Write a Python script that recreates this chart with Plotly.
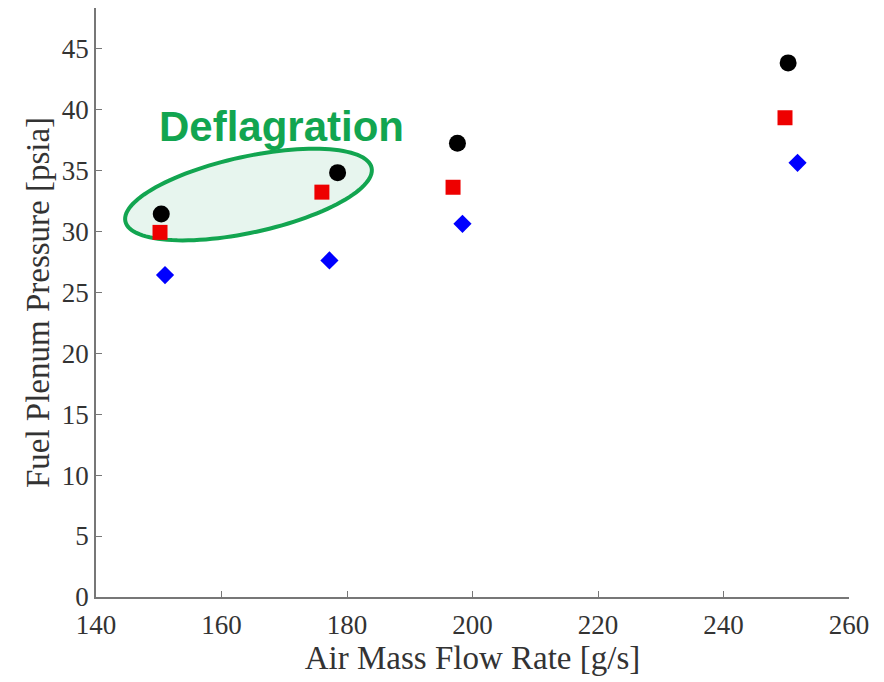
import numpy as np
import plotly.graph_objects as go

# Data
x_black = [150.4, 178.5, 197.6, 250.3]
y_black = [31.4, 34.8, 37.2, 43.8]
x_red = [150.2, 176.0, 196.9, 249.8]
y_red = [29.9, 33.2, 33.6, 39.3]
x_blue = [151.0, 177.2, 198.4, 251.8]
y_blue = [26.4, 27.6, 30.6, 35.6]

x_ticks = [140, 160, 180, 200, 220, 240, 260]
y_ticks = [0, 5, 10, 15, 20, 25, 30, 35, 40, 45]

# page body has an 8px margin; figure is sized so the plot lands where the reference has it
W, H = 876, 674
ml, mr, mt, mb = 88, 35, 0, 85
xr = [140, 260]
yr = [0, 48.3]
sx = (W - ml - mr) / (xr[1] - xr[0])   # px per x unit
sy = (H - mt - mb) / (yr[1] - yr[0])   # px per y unit

fig = go.Figure()
fig.add_trace(go.Scatter(x=x_black, y=y_black, mode="markers",
                         marker=dict(symbol="circle", size=17, color="black"),
                         showlegend=False))
fig.add_trace(go.Scatter(x=x_red, y=y_red, mode="markers",
                         marker=dict(symbol="square", size=15, color="#ee0000"),
                         showlegend=False))
fig.add_trace(go.Scatter(x=x_blue, y=y_blue, mode="markers",
                         marker=dict(symbol="diamond", size=14, color="#0000ff"),
                         showlegend=False))

# Tilted ellipse annotation (defined in pixel geometry, converted to data)
cx, cy = 164.3, 33.0
a_px, b_px, ang = 126, 38, np.deg2rad(12.3)
t = np.linspace(0, 2 * np.pi, 121)
u = a_px * np.cos(t)
v = b_px * np.sin(t)
dx = u * np.cos(ang) + v * np.sin(ang)
dy = u * np.sin(ang) - v * np.cos(ang)
ex = cx + dx / sx
ey = cy + dy / sy
path = "M " + " L ".join(f"{xx:.3f},{yy:.3f}" for xx, yy in zip(ex, ey)) + " Z"
fig.add_shape(type="path", path=path, xref="x", yref="y",
              fillcolor="rgba(215,238,226,0.6)",
              line=dict(color="#12a550", width=4), layer="below")

fig.add_annotation(x=169.5, y=38.6, xref="x", yref="y", text="<b>Deflagration</b>",
                   showarrow=False,
                   font=dict(family="Liberation Sans, Arial", size=42, color="#12a550"))

axis_common = dict(showline=True, linecolor="#777777", linewidth=1.5,
                   ticks="inside", ticklen=6, tickcolor="#777777", tickwidth=1.2,
                   showgrid=False, zeroline=False, mirror=False, automargin=False,
                   tickfont=dict(family="Liberation Serif, Times New Roman", size=27, color="#333333"))

fig.update_xaxes(range=xr, tickvals=x_ticks, ticktext=[str(v) for v in x_ticks],
                 ticklabelstandoff=3,
                 title=dict(text="Air Mass Flow Rate [g/s]", standoff=7,
                            font=dict(family="Liberation Serif, Times New Roman", size=33, color="#333333")),
                 **axis_common)
fig.update_yaxes(range=yr, tickvals=y_ticks, ticktext=[str(v) for v in y_ticks],
                 title=dict(text="Fuel Plenum Pressure [psia]", standoff=2,
                            font=dict(family="Liberation Serif, Times New Roman", size=33, color="#333333")),
                 **axis_common)

fig.update_layout(width=W, height=H, margin=dict(l=ml, r=mr, t=mt, b=mb),
                  plot_bgcolor="white", paper_bgcolor="white")

fig.write_html("out.html")
